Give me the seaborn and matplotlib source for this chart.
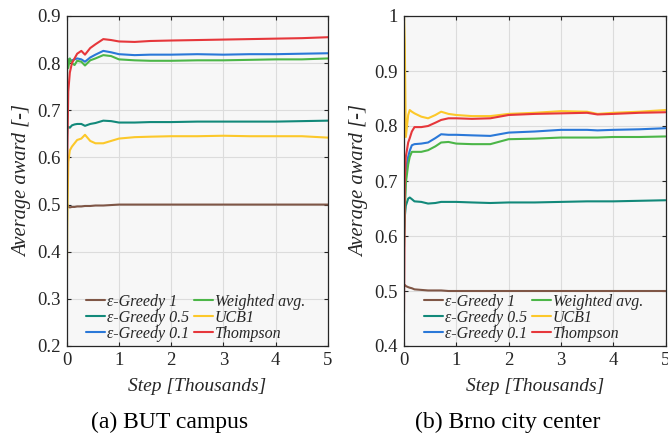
import numpy as np
import pandas as pd
import matplotlib
matplotlib.use("Agg")
import matplotlib.pyplot as plt
import seaborn as sns
from matplotlib.ticker import FuncFormatter

sns.set_theme(style="whitegrid")
plt.rcParams['font.family'] = ['Liberation Serif', 'DejaVu Serif']

labels = ["ε-Greedy 1", "ε-Greedy 0.5", "ε-Greedy 0.1", "Weighted avg.", "UCB1", "Thompson"]
colors = ["#7f5646", "#12897a", "#2a78d8", "#4cb648", "#fcc82a", "#e6373b"]

# Left panel: BUT campus
steps_a = [0, 0.01, 0.03, 0.06, 0.1, 0.15, 0.2, 0.28, 0.35, 0.45, 0.55, 0.7, 0.85,
           1.0, 1.3, 1.6, 2.0, 2.5, 3.0, 3.5, 4.0, 4.5, 5.0]
eg1_a = [0.49, 0.50, 0.495, 0.494, 0.495, 0.495, 0.496, 0.496, 0.497, 0.497, 0.498, 0.498, 0.499,
         0.5, 0.5, 0.5, 0.5, 0.5, 0.5, 0.5, 0.5, 0.5, 0.5]
eg05_a = [0.63, 0.66, 0.665, 0.663, 0.668, 0.67, 0.671, 0.671, 0.667, 0.671, 0.673, 0.678, 0.677,
          0.674, 0.674, 0.675, 0.675, 0.676, 0.676, 0.676, 0.676, 0.677, 0.678]
eg01_a = [0.80, 0.81, 0.803, 0.805, 0.806, 0.808, 0.81, 0.808, 0.803, 0.812, 0.818, 0.826, 0.823,
          0.819, 0.817, 0.818, 0.818, 0.819, 0.818, 0.819, 0.819, 0.82, 0.821]
wavg_a = [0.72, 0.81, 0.79, 0.81, 0.80, 0.796, 0.805, 0.803, 0.795, 0.806, 0.81, 0.817, 0.815,
          0.808, 0.806, 0.805, 0.805, 0.806, 0.806, 0.807, 0.808, 0.808, 0.81]
ucb_a = [0.25, 0.45, 0.59, 0.615, 0.623, 0.63, 0.637, 0.64, 0.648, 0.635, 0.63, 0.63, 0.635,
         0.64, 0.643, 0.644, 0.645, 0.645, 0.646, 0.645, 0.645, 0.645, 0.642]
thom_a = [0.43, 0.60, 0.74, 0.78, 0.80, 0.81, 0.82, 0.826, 0.818, 0.832, 0.84, 0.851, 0.849,
          0.846, 0.845, 0.847, 0.848, 0.849, 0.85, 0.851, 0.852, 0.853, 0.855]

# Right panel: Brno city center
steps_b = [0, 0.015, 0.035, 0.08, 0.11, 0.15, 0.2, 0.33, 0.46, 0.6, 0.71, 0.85, 1.0,
           1.3, 1.65, 2.0, 2.5, 3.0, 3.5, 3.7, 4.0, 4.5, 5.0]
eg1_b = [0.51, 0.511, 0.509, 0.507, 0.506, 0.505, 0.503, 0.502, 0.501, 0.501, 0.501, 0.5, 0.5,
         0.5, 0.5, 0.5, 0.5, 0.5, 0.5, 0.5, 0.5, 0.5, 0.5]
eg05_b = [0.61, 0.635, 0.655, 0.668, 0.67, 0.667, 0.663, 0.662, 0.659, 0.66, 0.662, 0.662, 0.662,
          0.661, 0.66, 0.661, 0.661, 0.662, 0.663, 0.663, 0.663, 0.664, 0.665]
eg01_b = [0.60, 0.66, 0.72, 0.744, 0.755, 0.765, 0.767, 0.768, 0.77, 0.778, 0.785, 0.784, 0.784,
          0.783, 0.782, 0.788, 0.79, 0.793, 0.793, 0.792, 0.793, 0.794, 0.796]
wavg_b = [0.58, 0.64, 0.696, 0.73, 0.744, 0.753, 0.753, 0.753, 0.756, 0.763, 0.77, 0.771, 0.768,
          0.767, 0.767, 0.776, 0.777, 0.779, 0.779, 0.779, 0.78, 0.78, 0.781]
ucb_b = [1.0, 0.95, 0.78, 0.82, 0.829, 0.826, 0.823, 0.817, 0.814, 0.82, 0.826, 0.822, 0.82,
         0.818, 0.818, 0.822, 0.824, 0.827, 0.826, 0.822, 0.824, 0.826, 0.829]
thom_b = [0.46, 0.70, 0.744, 0.77, 0.778, 0.79, 0.798, 0.798, 0.80, 0.806, 0.811, 0.814, 0.814,
          0.813, 0.814, 0.82, 0.822, 0.823, 0.824, 0.821, 0.822, 0.824, 0.825]

yticks_a = [0.2, 0.3, 0.4, 0.5, 0.6, 0.7, 0.8, 0.9]
yticks_b = [0.4, 0.5, 0.6, 0.7, 0.8, 0.9, 1.0]
xticks = [0, 1, 2, 3, 4, 5]


def long_df(steps, series):
    rows = []
    for lab, vals in zip(labels, series):
        for s, v in zip(steps, vals):
            rows.append({"step": s, "value": v, "method": lab})
    return pd.DataFrame(rows)


df_a = long_df(steps_a, [eg1_a, eg05_a, eg01_a, wavg_a, ucb_a, thom_a])
df_b = long_df(steps_b, [eg1_b, eg05_b, eg01_b, wavg_b, ucb_b, thom_b])

fig = plt.figure(figsize=(6.68, 4.38), dpi=100)
ax1 = fig.add_axes([66.7 / 668, 92 / 438, 261.3 / 668, 330 / 438])
ax2 = fig.add_axes([404 / 668, 92 / 438, 261.5 / 668, 330 / 438])

dark = "#262626"
for ax, df, yt, caption, lx, cx in [(ax1, df_a, yticks_a, "(a) BUT campus", 0.072, 0.395),
                                    (ax2, df_b, yticks_b, "(b) Brno city center", 0.076, 0.398)]:
    sns.lineplot(data=df, x="step", y="value", hue="method", hue_order=labels,
                 palette=colors, linewidth=1.5, ax=ax, legend=False, estimator=None)
    ax.set_facecolor("#f7f7f7")
    ax.set_xlim(0, 5)
    ax.set_ylim(yt[0], yt[-1])
    ax.set_xticks(xticks)
    ax.set_yticks(yt)
    ax.yaxis.set_major_formatter(FuncFormatter(lambda v, p: f"{v:g}"))
    ax.grid(True, color="#dcdcdc", linewidth=0.8)
    for sp in ax.spines.values():
        sp.set_color(dark)
        sp.set_linewidth(0.9)
        sp.set_visible(True)
    ax.tick_params(direction="in", length=3, width=0.8, color=dark, labelcolor=dark,
                   labelsize=13.5, top=True, right=True, bottom=True, left=True, pad=4.5)
    ax.set_xlabel("Step [Thousands]", fontsize=14, style="italic", color=dark)
    ax.set_ylabel("Average award [-]", fontsize=14.8, style="italic", color=dark)
    ax.xaxis.set_label_coords(0.5, -0.124)
    ax.yaxis.set_label_coords(-0.168, 0.5)
    ax.xaxis.label.set_va("center")
    ax.yaxis.label.set_va("center")
    handles = [plt.Line2D([], [], color=c, linewidth=1.5) for c in colors]
    ax.legend(handles, labels, ncol=2, loc="lower left", bbox_to_anchor=(lx, 0.012),
              frameon=False, handlelength=1.2, handletextpad=0.12,
              columnspacing=0.3, labelspacing=0.0, borderaxespad=0.0, borderpad=0.0,
              prop={"style": "italic", "size": 11.5})
    ax.text(cx, -0.233, caption, transform=ax.transAxes, ha="center", va="center",
            fontsize=17, color="black")

fig.savefig("out.png", dpi=100)
